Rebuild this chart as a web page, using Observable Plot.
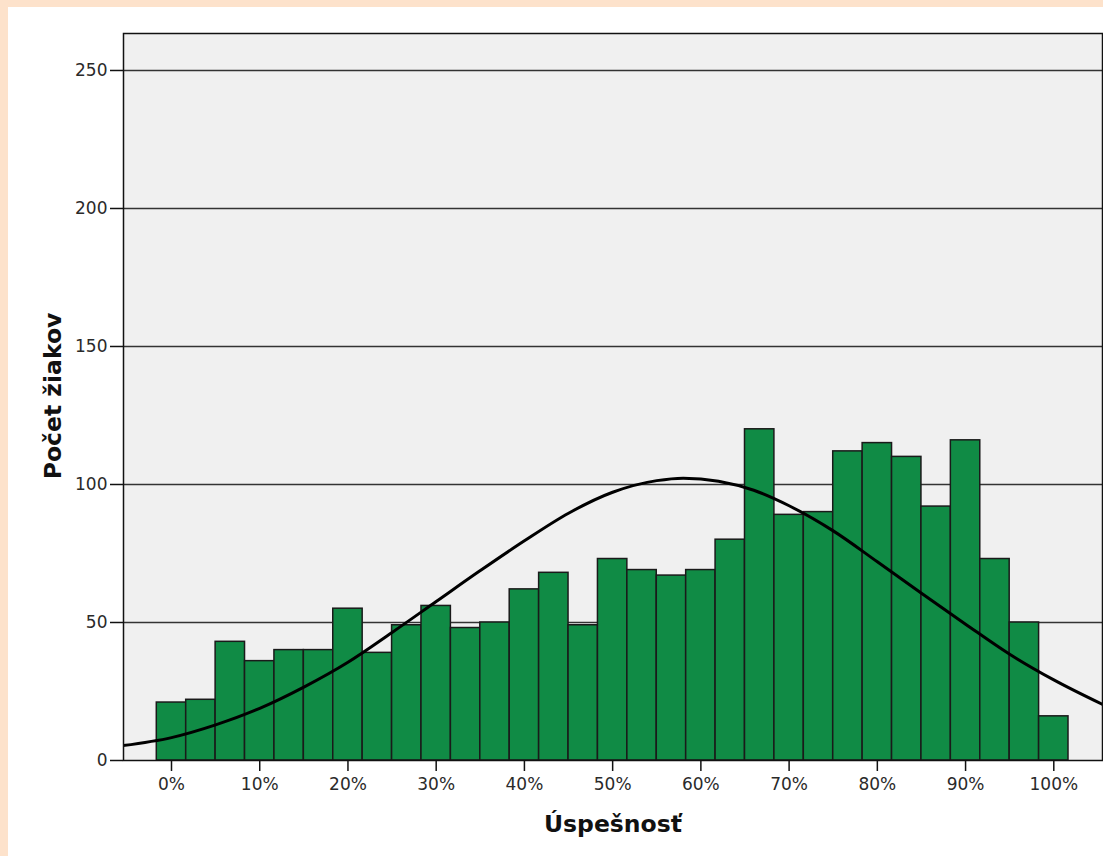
<!DOCTYPE html>
<html>
<head>
<meta charset="utf-8">
<script src="https://cdn.jsdelivr.net/npm/d3@7"></script>
<script src="https://cdn.jsdelivr.net/npm/@observablehq/plot@0.6"></script>
<style>
  html, body { margin: 0; padding: 0; background: #fde2cb; }
  #panel { position: absolute; left: 8px; top: 7px; width: 1095px; height: 849px; background: #ffffff; }
  svg text { font-family: "DejaVu Sans", sans-serif; }
</style>
</head>
<body>
<div id="panel"></div>
<script>
// Bin centres (% success) and counts of pupils
const binCenters = [0, 3.333, 6.667, 10, 13.333, 16.667, 20, 23.333, 26.667, 30,
  33.333, 36.667, 40, 43.333, 46.667, 50, 53.333, 56.667, 60, 63.333,
  66.667, 70, 73.333, 76.667, 80, 83.333, 86.667, 90, 93.333, 96.667, 100];
const counts = [21, 22, 43, 36, 40, 40, 55, 39, 49, 56,
  48, 50, 62, 68, 49, 73, 69, 67, 69, 80,
  120, 89, 90, 112, 115, 110, 92, 116, 73, 50, 16];
const binWidth = 3.333;

// Normal curve, points
const curveX = [-5.5, 0, 5, 10, 15, 20, 25, 30, 35, 40, 45, 50, 55, 58, 62, 66, 70, 75, 80, 85, 90, 95, 100, 105.6];
const curveY = [5.4, 8.3, 12.9, 18.9, 26.6, 35.6, 46.4, 57.6, 68.8, 79.6, 89.6, 97.2, 101.4, 102.3, 101.2, 97.9, 92.3, 83.2, 72, 60.6, 49.4, 38.5, 29.2, 20.2];

// Ticks
const xTicks = [0, 10, 20, 30, 40, 50, 60, 70, 80, 90, 100];
const yTicks = [0, 50, 100, 150, 200, 250];
const gridValues = [50, 100, 150, 200, 250];

const xTitle = "Úspešnosť";
const yTitle = "Počet žiakov";

const bins = binCenters.map((c, i) => ({x1: c - binWidth / 2, x2: c + binWidth / 2, count: counts[i]}));
const curve = curveX.map((x, i) => ({x, y: curveY[i]}));

const chart = Plot.plot({
  width: 1095,
  height: 849,
  marginLeft: 115,
  marginRight: 1,
  marginTop: 26,
  marginBottom: 96,
  style: {fontFamily: "DejaVu Sans, sans-serif", fontSize: "17px", background: "white", color: "#222", overflow: "visible"},
  x: {domain: [-5.44, 105.52]},
  y: {domain: [0, 263.4]},
  marks: [
    Plot.frame({fill: "#f0f0f0"}),
    Plot.ruleY(gridValues, {stroke: "#333", strokeWidth: 1.5}),
    Plot.rectY(bins, {x1: "x1", x2: "x2", y: "count", fill: "#108b45", stroke: "#1a1a1a", strokeWidth: 1.5}),
    Plot.line(curve, {x: "x", y: "y", curve: "monotone-x", stroke: "#000", strokeWidth: 3, clip: true}),
    Plot.frame({stroke: "#111", strokeWidth: 1.5}),
    Plot.axisX(xTicks, {tickSize: 11, tickPadding: 6, tickFormat: d => d + "%", label: null, stroke: "#111", strokeWidth: 1.5, fill: "#2a2a2a"}),
    Plot.axisY(yTicks, {tickSize: 13, tickPadding: 3, label: null, stroke: "#111", strokeWidth: 1.5, fill: "#2a2a2a"})
  ]
});

const svg = d3.select(chart);
svg.append("text")
  .attr("x", 605).attr("y", 825)
  .attr("text-anchor", "middle")
  .attr("font-weight", "bold")
  .attr("font-size", 23.5)
  .attr("fill", "#111")
  .text(xTitle);
svg.append("text")
  .attr("transform", "translate(53,389) rotate(-90)")
  .attr("text-anchor", "middle")
  .attr("font-weight", "bold")
  .attr("font-size", 23.5)
  .attr("fill", "#111")
  .text(yTitle);

document.getElementById("panel").appendChild(chart);
</script>
</body>
</html>
